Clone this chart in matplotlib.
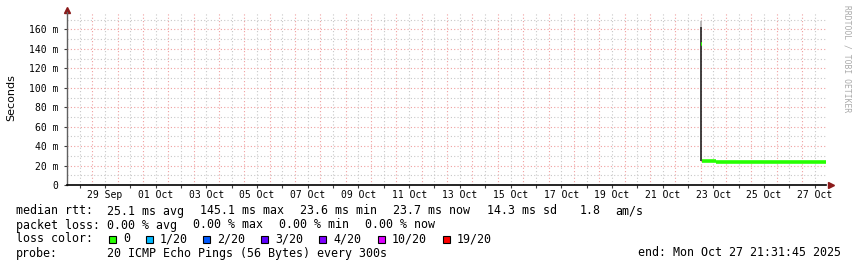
import matplotlib
matplotlib.use("Agg")
from matplotlib import pyplot as plt
from matplotlib import dates as mpl_dates
from matplotlib.patches import Rectangle
import pandas as pd

# median rtt (ms), stepwise, loss colour green (0/20)
median_start = pd.to_datetime(["2025-10-23 00:00", "2025-10-23 01:00", "2025-10-23 14:35"])
median_end = pd.to_datetime(["2025-10-23 01:00", "2025-10-23 14:35", "2025-10-27 22:44"])
median_ms = [145.1, 24.9, 23.7]

# smoke at the first sample (spread of the 20 pings)
smoke_time = pd.to_datetime(["2025-10-23 00:20"])
smoke_low = [24.9]
smoke_high = [163.0]
smoke_top = [169.0]

x_start = pd.Timestamp("2025-09-27 23:34")
x_end = pd.Timestamp("2025-10-27 22:44")
label_days = pd.date_range("2025-09-29 12:00", "2025-10-27 12:00", freq="2D")

y_ticks = [0, 20, 40, 60, 80, 100, 120, 140, 160]
y_labels = ["0"] + ["%d m" % v for v in y_ticks[1:]]

loss_labels = ["0", "1/20", "2/20", "3/20", "4/20", "10/20", "19/20"]
loss_colors = ["#26ff00", "#00b8ff", "#0059ff", "#5e00ff", "#7e00ff", "#dd00ff", "#ff0000"]

W, H = 857, 267
mono = "DejaVu Sans Mono"

fig = plt.figure(figsize=(W / 100, H / 100), dpi=100)
ax = fig.add_axes([66.5 / W, (H - 185) / H, (826 - 66.5) / W, 173 / H])

# grid: red every day / 20 ms, grey every 12 h / 10 ms
ax.xaxis.set_major_locator(mpl_dates.DayLocator())
ax.xaxis.set_minor_locator(mpl_dates.HourLocator(byhour=[12]))
ax.xaxis.set_major_formatter(plt.NullFormatter())
ax.set_yticks(y_ticks)
ax.set_yticks(range(10, 180, 20), minor=True)
ax.set_yticklabels(y_labels, fontsize=7, family=mono)
ax.grid(which="major", color="#f0a0a0", linestyle=(0, (1, 2)), linewidth=0.8)
ax.grid(which="minor", color="#c8c8c8", linestyle=(0, (1, 2)), linewidth=0.8)
ax.tick_params(axis="both", which="both", length=2, width=0.8, color="#404040", pad=4)
ax.tick_params(axis="x", which="major", length=0)
ax.tick_params(axis="y", which="minor", length=0)

ax.set_xlim(x_start, x_end)
ax.set_ylim(0, 178)

for s in ["top", "right"]:
    ax.spines[s].set_visible(False)
ax.spines["left"].set_color("#606060")
ax.spines["bottom"].set_color("black")
ax.spines["left"].set_linewidth(1)
ax.spines["bottom"].set_linewidth(1.2)

# smoke and median
ax.vlines(smoke_time, smoke_high, smoke_top, color="#b0b0b0", linewidth=1.2, zorder=3)
ax.vlines(smoke_time, smoke_low, smoke_high, color="#202020", linewidth=1.2, zorder=3)
ax.hlines(median_ms, median_start, median_end, color=loss_colors[0], linewidth=2.6, zorder=4)

# axis arrows
ax.plot([1.006], [0], marker=">", color="#8b1a1a", markersize=4, transform=ax.transAxes, clip_on=False)
ax.plot([0], [1.01], marker="^", color="#8b1a1a", markersize=4, transform=ax.transAxes, clip_on=False)

# date labels centred on noon
for d in label_days:
    ax.text(d, -0.06, d.strftime("%d %b"), transform=ax.get_xaxis_transform(),
            ha="center", va="center", fontsize=7, family=mono)

fig.text(11 / W, 1 - 98 / H, "Seconds", rotation=90, ha="center", va="center", fontsize=8)
fig.text(847 / W, 1 - 5 / H, "RRDTOOL / TOBI OETIKER", rotation=270, ha="center", va="top",
         fontsize=5.8, family=mono, color="#aaaaaa")


def put(x, y, s):
    fig.text(x / W, 1 - y / H, s, ha="left", va="center", fontsize=8.4, family=mono)


put(16, 211, "median rtt:")
for x, s in zip([107, 200, 300, 393, 487, 580, 615],
                ["25.1 ms avg", "145.1 ms max", "23.6 ms min", "23.7 ms now", "14.3 ms sd", "1.8", "am/s"]):
    put(x, 211, s)

put(16, 225, "packet loss:")
for x, s in zip([107, 193, 279, 365], ["0.00 % avg", "0.00 % max", "0.00 % min", "0.00 % now"]):
    put(x, 225, s)

put(16, 239, "loss color:")
sq_x = [109, 146, 203, 261, 319, 378, 443]
for x, lab, c in zip(sq_x, loss_labels, loss_colors):
    fig.patches.append(Rectangle((x / W, 1 - 243 / H), 7 / W, 7.5 / H, transform=fig.transFigure,
                                 facecolor=c, edgecolor="black", linewidth=0.8))
    put(x + 14, 239, lab)

put(16, 253, "probe:")
put(107, 253, "20 ICMP Echo Pings (56 Bytes) every 300s")
put(638, 253, "end: Mon Oct 27 21:31:45 2025")

fig.savefig("out.png", dpi=100)
